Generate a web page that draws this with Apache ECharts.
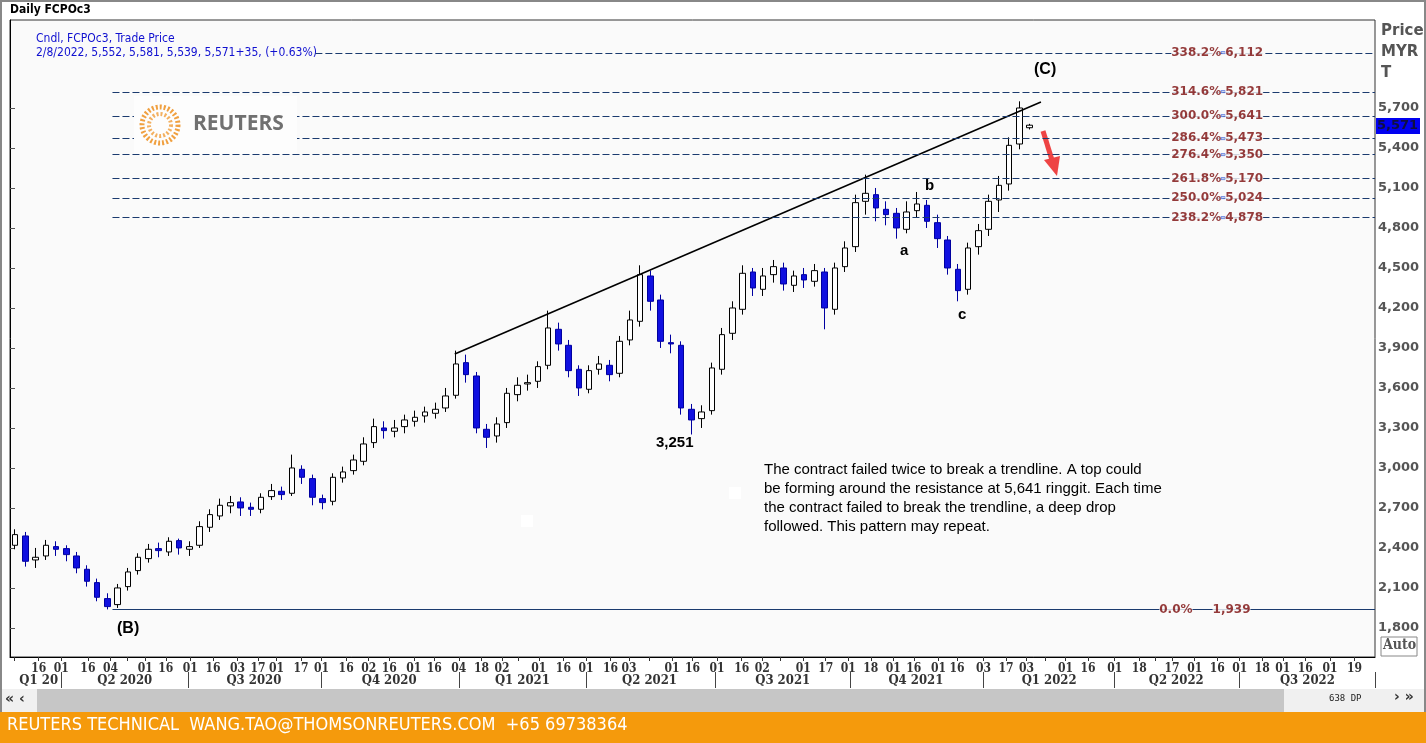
<!DOCTYPE html>
<html><head><meta charset="utf-8">
<script src="https://cdn.jsdelivr.net/npm/echarts@6/dist/echarts.min.js"></script>
<style>html,body{margin:0;padding:0;background:#fff}#c{width:1426px;height:743px}</style>
</head><body><div id="c"></div>
<script>
// weekly candles, x = trading-day index
const opens = [2420,2490,2310,2340,2410,2395,2340,2240,2140,2020,
1975,2110,2230,2320,2395,2370,2455,2390,2420,2555,
2640,2715,2745,2705,2690,2785,2825,2810,2990,2920,
2770,2750,2925,2980,3050,3190,3300,3275,3310,3350,
3390,3410,3450,3545,3790,3690,3290,3240,3340,3550,
3630,3650,3770,4040,3920,3740,3590,3740,3770,3710,
3960,4100,4440,4260,3940,3920,3440,3370,3430,3740,
4010,4190,4470,4340,4450,4500,4370,4450,4400,4470,
4190,4510,4660,5000,5050,4940,4910,4790,4930,4970,
4840,4710,4490,4340,4660,4790,5010,5130,5430,5552];
const closes = [2500,2300,2330,2420,2390,2350,2250,2150,2030,1960,
2100,2220,2330,2390,2380,2450,2400,2410,2560,2650,
2720,2740,2700,2690,2780,2830,2800,3000,2930,2780,
2740,2930,2970,3060,3180,3310,3280,3300,3360,3380,
3420,3440,3540,3780,3700,3300,3230,3330,3560,3620,
3640,3760,4050,3930,3730,3600,3730,3780,3700,3950,
4110,4450,4250,3950,3930,3450,3360,3420,3750,4000,
4200,4460,4350,4440,4510,4380,4440,4410,4480,4200,
4500,4650,4990,5060,4950,4900,4800,4920,4980,4850,
4720,4500,4330,4650,4780,5000,5120,5420,5700,5571];
const highs = [2540,2520,2400,2460,2450,2420,2370,2270,2170,2060,
2130,2250,2360,2430,2440,2480,2470,2450,2600,2690,
2770,2790,2780,2740,2810,2880,2860,3100,3020,2950,
2800,2960,3010,3100,3230,3370,3350,3360,3400,3430,
3460,3490,3600,3880,3850,3720,3330,3380,3600,3680,
3700,3800,4180,4090,3960,3770,3770,3840,3810,3990,
4180,4520,4480,4300,4000,3950,3480,3470,3790,4050,
4250,4520,4500,4500,4560,4540,4480,4500,4530,4500,
4540,4700,5050,5200,5100,5000,4950,5000,5070,5010,
4900,4740,4530,4690,4830,5050,5190,5480,5750,5581];
const lows = [2390,2260,2250,2310,2340,2300,2210,2110,2000,1939,
1950,2080,2200,2290,2330,2340,2350,2340,2400,2520,
2610,2660,2640,2640,2660,2760,2760,2790,2880,2720,
2690,2720,2890,2950,3020,3150,3220,3230,3260,3310,
3340,3370,3420,3520,3640,3260,3150,3190,3300,3500,
3580,3600,3740,3880,3680,3540,3560,3700,3650,3680,
3920,4060,4180,3900,3860,3400,3251,3300,3400,3700,
3960,4150,4290,4290,4390,4330,4320,4350,4360,4040,
4150,4470,4620,4900,4850,4820,4720,4760,4880,4800,
4650,4450,4250,4300,4600,4740,4920,5080,5390,5539];

const fibPct = ['338.2%','314.6%','300.0%','286.4%','276.4%','261.8%','250.0%','238.2%'];
const fibVal = [6112,5821,5641,5473,5350,5170,5024,4878];
const fibStart = [149,50,50,50,50,50,50,50];
const zeroLevel = 1939;

const yLabels = [1800,2100,2400,2700,3000,3300,3600,3900,4200,4500,4800,5100,5400,5700];
const dayTickIdx = [2,14,25,38,49,57,66,76,88,99,111,121,130,142,152,164,175,185,197,207,219,230,240,248,258,270,281,293,302,312,323,333,345,357,367,376,387,398,409,420,431,441,453,462,475,486,496,505,515,526,539,551,559,567,578,589,600,611,621,632,644,656];
const dayTickLbl = ['','16','01','16','04','','01','16','01','16','03','17','01','17','01','16','02','16','01','16','04','18','02','','01','16','01','16','03','','01','16','01','16','02','','01','17','01','18','01','16','01','16','03','17','03','','01','16','01','18','','17','01','16','01','18','01','16','01','19'];
const qBounds = [25,87,152,219,281,344,410,475,539,600,666];
const qCenters = [14,56,119,185,250,312,377,442,507,569,633];
const qLabels = ['Q1 20','Q2 2020','Q3 2020','Q4 2020','Q1 2021','Q2 2021','Q3 2021','Q4 2021','Q1 2022','Q2 2022','Q3 2022'];
const trend = [[217,3855],[503,5745]];

const candles = closes.map((c,i)=>[2.5+5*i, opens[i], c, lows[i], highs[i]]);
const fmt = v => v.toLocaleString('en-US');
const dayMap = {}; dayTickIdx.forEach((d,i)=>dayMap[d]=dayTickLbl[i]);
const qMap = {}; qCenters.forEach((d,i)=>qMap[d]=qLabels[i]);

const chart = echarts.init(document.getElementById('c'));
const fibLines = fibVal.map((v,i)=>[{coord:[fibStart[i],v]},{coord:[666,v]}]);
const lbl = {fontFamily:'DejaVu Sans',fontSize:12,fontWeight:'bold',color:'#7a0a0a'};

const footerY = 712;
chart.setOption({
  animation:false,
  backgroundColor:'#fff',
  grid:{left:10,right:51,top:20,bottom:86,show:true,backgroundColor:'#fafafa',borderColor:'#333',borderWidth:1},
  xAxis:[{
    type:'value',min:0,max:666,position:'bottom',
    axisLine:{show:true,lineStyle:{color:'#000'}},splitLine:{show:false},
    axisTick:{show:true,customValues:dayTickIdx,length:4,inside:false,lineStyle:{color:'#333'}},
    axisLabel:{customValues:dayTickIdx.filter((d,i)=>dayTickLbl[i]!==''),formatter:v=>dayMap[v]||'',
      fontFamily:'DejaVu Serif Condensed',fontWeight:'bold',fontSize:12,color:'#333',margin:6}
  },{
    type:'value',min:0,max:666,position:'bottom',offset:15,
    axisLine:{show:false},splitLine:{show:false},
    axisTick:{show:true,customValues:qBounds,length:16,inside:false,lineStyle:{color:'#444'}},
    axisLabel:{customValues:qCenters,formatter:v=>qMap[v]||'',
      fontFamily:'DejaVu Serif Condensed',fontWeight:'bold',fontSize:13,color:'#333',margin:2}
  }],
  yAxis:{type:'value',position:'right',min:1582,max:6360,scale:true,
    axisLine:{show:true,lineStyle:{color:'#000'}},splitLine:{show:false},
    axisTick:{show:true,customValues:yLabels,length:5,lineStyle:{color:'#555'}},
    axisLabel:{customValues:yLabels,formatter:v=>fmt(v),fontFamily:'DejaVu Sans',fontSize:13,fontWeight:'bold',color:'#555',margin:3}
  },
  series:[{
    type:'candlestick',xAxisIndex:0,data:candles,encode:{x:0,y:[1,2,3,4]},barWidth:6,
    itemStyle:{color:'#ffffff',color0:'#1010e0',borderColor:'#000',borderColor0:'#0000a0',borderWidth:1},
    markLine:{silent:true,symbol:['none','none'],label:{show:false},
      data:[
        [{coord:trend[0],lineStyle:{color:'#000',width:1.6,type:'solid'}},{coord:trend[1]}],
        [{coord:[50,zeroLevel],lineStyle:{color:'#1a3a6e',width:1.2,type:'solid'}},{coord:[666,zeroLevel]}]
      ].concat(fibLines.map(l=>[Object.assign({lineStyle:{color:'#1a3a6e',width:1,type:[7,3]}},l[0]),l[1]]))
    }
  },{
    type:'scatter',symbolSize:0,z:5,
    data:fibVal.map((v,i)=>({value:[589,v],pct:fibPct[i]})),
    label:{show:true,position:'inside',formatter:p=>'{a|'+p.data.pct+'}-{a|'+fmt(p.value[1])+'}',
      rich:{a:Object.assign({backgroundColor:'#fafafa'},lbl)}}
  },{
    type:'scatter',symbolSize:0,z:5,data:[[583,zeroLevel]],
    label:{show:true,position:'inside',formatter:'{a|0.0%}      {a|'+fmt(zeroLevel)+'}',
      rich:{a:Object.assign({backgroundColor:'#fafafa'},lbl)}}
  }],
  graphic:[
    {type:'rect',shape:{x:1,y:1,width:1424,height:footerY-1},style:{fill:'none',stroke:'#888',lineWidth:2},z:0,silent:true},
    {type:'text',left:10,top:4,style:{text:'Daily FCPOc3',font:'bold 12px DejaVu Sans Condensed',fill:'#000'}},
    {type:'text',left:36,top:32,style:{text:'Cndl, FCPOc3, Trade Price\n2/8/2022, 5,552, 5,581, 5,539, 5,571+35, (+0.63%)',font:'12px DejaVu Sans Condensed',lineHeight:14,fill:'#1010d0',backgroundColor:'#fafafa'}},
    {type:'rect',shape:{x:134,y:96,width:163,height:58},style:{fill:'#fdfdfd'},z:50},
    {type:'circle',shape:{cx:160,cy:125,r:18},style:{fill:'none',stroke:'#f0a040',lineWidth:5,lineDash:[2,2]},z:51},
    {type:'circle',shape:{cx:160,cy:125,r:11},style:{fill:'none',stroke:'#f3b060',lineWidth:4,lineDash:[2,2]},z:51},
    {type:'text',left:193,top:114,style:{text:'REUTERS',font:'bold 21px Open Sans',fill:'#707070'},z:51},
    {type:'text',left:1381,top:21,style:{text:'Price\nMYR\nT',font:'bold 15px DejaVu Sans',lineHeight:21,fill:'#555'}},
    {type:'rect',shape:{x:1376,y:118,width:44,height:16},style:{fill:'#0000f0'}},
    {type:'text',left:1377,top:119,style:{text:'5,571',font:'bold 13px DejaVu Sans',fill:'#101040'}},
    {type:'rect',shape:{x:1381,y:637,width:36,height:19},style:{fill:'#fff',stroke:'#888'}},
    {type:'text',left:1383,top:638,style:{text:'Auto',font:'bold 14px DejaVu Serif Condensed',fill:'#555'}},
    {type:'text',left:1034,top:62,style:{text:'(C)',font:'bold 16px Liberation Sans',fill:'#000'}},
    {type:'text',left:925,top:178,style:{text:'b',font:'bold 15px Liberation Sans',fill:'#000'}},
    {type:'text',left:900,top:243,style:{text:'a',font:'bold 15px Liberation Sans',fill:'#000'}},
    {type:'text',left:958,top:307,style:{text:'c',font:'bold 15px Liberation Sans',fill:'#000'}},
    {type:'text',left:656,top:435,style:{text:'3,251',font:'bold 15px Liberation Sans',fill:'#000'}},
    {type:'text',left:117,top:621,style:{text:'(B)',font:'bold 16px Liberation Sans',fill:'#000'}},
    {type:'text',left:764,top:460,style:{text:'The contract failed twice to break a trendline. A top could\nbe forming around the resistance at 5,641 ringgit. Each time\nthe contract failed to break the trendline, a deep drop\nfollowed. This pattern may repeat.',font:'15px Liberation Sans',lineHeight:19,fill:'#000'}},
    {type:'rect',shape:{x:521,y:515,width:12,height:12},style:{fill:'#fff'}},
    {type:'rect',shape:{x:729,y:487,width:12,height:12},style:{fill:'#fff'}},
    {type:'line',shape:{x1:1043,y1:131,x2:1052,y2:160},style:{stroke:'#ee4444',lineWidth:5}},
    {type:'polygon',shape:{points:[[1044,160],[1060,156],[1057,176]]},style:{fill:'#ee4444'}},
    {type:'rect',shape:{x:2,y:689,width:1422,height:23},style:{fill:'#c6c6c6'}},
    {type:'rect',shape:{x:2,y:689,width:35,height:23},style:{fill:'#f0f0f0'}},
    {type:'text',left:5,top:692,style:{text:'« ‹',font:'bold 14px DejaVu Sans',fill:'#333'}},
    {type:'rect',shape:{x:1284,y:689,width:140,height:23},style:{fill:'#f0f0f0'}},
    {type:'text',left:1329,top:694,style:{text:'638 DP',font:'9px DejaVu Sans Mono',fill:'#222'}},
    {type:'text',left:1394,top:690,style:{text:'› »',font:'bold 14px DejaVu Sans',fill:'#333'}},
    {type:'rect',shape:{x:0,y:footerY,width:1426,height:31},style:{fill:'#f59a0c'}},
    {type:'text',left:7,top:716,style:{text:'REUTERS TECHNICAL  WANG.TAO@THOMSONREUTERS.COM  +65 69738364',font:'18px DejaVu Sans Condensed',fill:'#fff'}}
  ]
});
</script></body></html>
